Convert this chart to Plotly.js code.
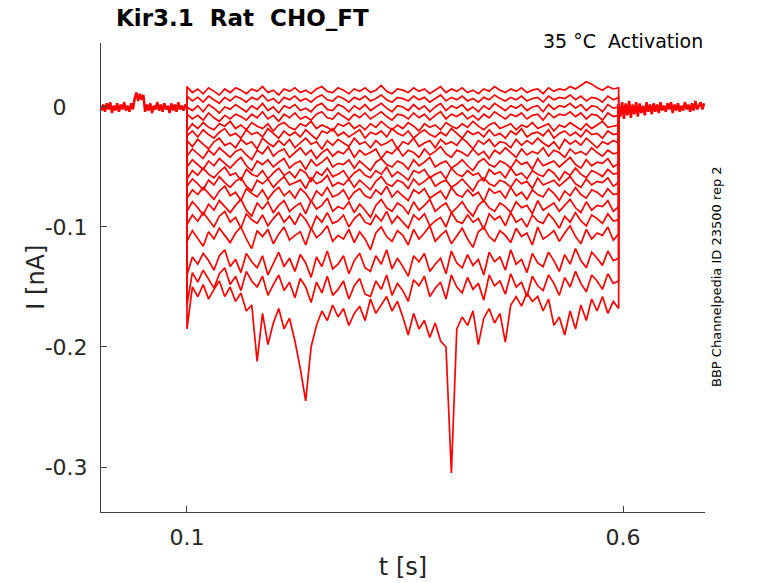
<!DOCTYPE html>
<html>
<head>
<meta charset="utf-8">
<script src="https://cdn.plot.ly/plotly-3.0.1.min.js"></script>
<style>
  html, body { margin: 0; padding: 0; background: #fff; }
  #plot { width: 778px; height: 583px; }
</style>
</head>
<body>
<div id="plot"></div>
<script>
// all currents in pA, converted to nA when plotted
const tBase0 = 0.002;
const dtBase = 0.002;
const tOn = 0.1;
const tOff = 0.595;

// holding current before the step (t = 0.002 .. 0.1)
const basePre = [
  -3, 2, -4, 3, -2, 4, -5, 1, -3, 3, -4, 2, -2, 4, -3, 1, -4, 3, -2,
  7, 12, 5, 11, 6, 10,
  -4, 2, -3, 3, -5, 1, -2, 4, -3, 2, -4, 3, -2, 1, -5, 3, -3, 2, -4, 4, -2, 1, -3, 2, -1,
];

// holding current after the step (t = 0.595 ..)
const basePost = [
  2, -8, 4, -10, 3, -7, 5, -9, 2, -6, 4, -8, 3, -5, 1, -7, 4, -4, 2, -6,
  3, -4, 2, -5, 4, -3, 1, -4, 3, -2, 4, -5, 2, -3, 3, -4, 1, -3, 4, -2,
  2, -4, 3, -3, 5, -2, 1, 4, -2, 3,
];

// step sweeps, 81 samples each between tOn and tOff
const sweep1 = [
  17, 12, 15, 11, 16, 13, 10, 15, 12, 16,
  14, 11, 15, 13, 17, 12, 14, 10, 15, 13,
  16, 12, 14, 11, 15, 17, 13, 12, 16, 14,
  11, 15, 13, 16, 12, 14, 18, 13, 11, 15,
  14, 12, 16, 13, 15, 11, 14, 17, 12, 15,
  13, 16, 12, 14, 11, 15, 13, 17, 14, 12,
  15, 13, 16, 12, 14, 15, 11, 16, 13, 15,
  14, 17, 15, 18, 21, 19, 16, 14, 17, 15,
  16];
const sweep2 = [
  9, 5, 8, 4, 9, 6, 3, 8, 5, 9,
  7, 4, 8, 6, 10, 5, 7, 3, 8, 6,
  9, 5, 7, 4, 8, 10, 6, 5, 9, 7,
  4, 8, 6, 9, 5, 7, 10, 6, 4, 8,
  7, 5, 9, 6, 8, 4, 7, 10, 5, 8,
  6, 9, 5, 7, 4, 8, 6, 10, 7, 5,
  8, 6, 9, 5, 7, 8, 4, 9, 6, 8,
  7, 10, 6, 9, 5, 8, 7, 4, 9, 6,
  8];
const sweep3 = [
  0, -3, 1, -4, 2, -1, -5, 0, -2, 2,
  -1, -4, 1, -2, 3, -3, 0, -5, 1, -1,
  2, -3, -1, -4, 1, 3, -2, -3, 2, 0,
  -4, 1, -2, 2, -3, 0, 3, -1, -4, 1,
  0, -3, 2, -2, 1, -4, 0, 3, -3, 1,
  -1, 2, -3, 0, -4, 1, -2, 3, 0, -3,
  1, -1, 2, -3, 0, 1, -4, 2, -2, 1,
  0, 3, -1, 2, -3, 1, 0, -4, 2, -1,
  0];
const sweep4 = [
  -6, -10, -7, -11, -5, -9, -12, -7, -10, -6,
  -8, -11, -6, -9, -4, -10, -7, -12, -6, -9,
  -5, -10, -8, -11, -6, -4, -9, -10, -5, -8,
  -11, -6, -9, -5, -10, -7, -4, -8, -11, -6,
  -7, -10, -5, -9, -6, -11, -7, -4, -10, -6,
  -8, -5, -10, -7, -11, -6, -9, -4, -7, -10,
  -6, -8, -5, -10, -7, -6, -11, -5, -9, -6,
  -7, -4, -8, -5, -10, -6, -7, -11, -5, -8,
  -7];
const sweep5 = [
  -20, -14, -18, -13, -17, -19, -14, -16, -12, -18,
  -15, -19, -13, -16, -18, -14, -20, -15, -13, -17,
  -19, -14, -16, -12, -18, -15, -17, -20, -14, -16,
  -13, -18, -15, -19, -14, -17, -12, -16, -19, -15,
  -18, -13, -16, -20, -14, -17, -15, -19, -13, -16,
  -18, -14, -17, -12, -16, -19, -15, -13, -18, -16,
  -14, -19, -15, -17, -13, -18, -16, -14, -20, -15,
  -17, -13, -16, -19, -14, -18, -15, -12, -17, -16,
  -15];
const sweep6 = [
  -24, -20, -25, -19, -23, -26, -21, -18, -24, -22,
  -26, -19, -23, -21, -25, -18, -22, -26, -20, -24,
  -21, -25, -19, -23, -27, -20, -22, -18, -24, -21,
  -25, -22, -19, -26, -21, -23, -20, -25, -18, -22,
  -24, -20, -26, -22, -19, -23, -25, -21, -24, -18,
  -22, -26, -20, -23, -21, -25, -19, -24, -22, -26,
  -20, -23, -18, -25, -22, -21, -24, -19, -26, -22,
  -20, -24, -21, -25, -19, -23, -22, -26, -20, -23,
  -22];
const sweep7 = [
  -28, -33, -27, -31, -35, -29, -26, -32, -30, -34,
  -27, -31, -29, -35, -26, -30, -33, -28, -32, -27,
  -34, -30, -26, -31, -29, -35, -28, -32, -27, -30,
  -33, -26, -31, -29, -34, -28, -32, -30, -27, -35,
  -29, -31, -26, -33, -30, -28, -34, -27, -31, -29,
  -32, -26, -30, -35, -28, -31, -27, -33, -29, -30,
  -34, -27, -32, -28, -31, -26, -30, -33, -29, -35,
  -27, -31, -28, -32, -26, -30, -34, -29, -31, -28,
  -30];
const sweep8 = [
  -41, -35, -39, -43, -36, -40, -34, -38, -42, -37,
  -35, -40, -44, -36, -39, -33, -41, -37, -35, -42,
  -38, -34, -40, -36, -43, -38, -35, -41, -37, -39,
  -34, -42, -36, -40, -38, -35, -43, -37, -39, -34,
  -41, -36, -38, -42, -35, -40, -37, -33, -39, -42,
  -36, -38, -41, -35, -40, -37, -43, -36, -39, -34,
  -38, -42, -35, -40, -37, -39, -34, -41, -36, -38,
  -42, -35, -39, -37, -40, -34, -38, -41, -36, -39,
  -38];
const sweep9 = [
  -50, -44, -48, -52, -45, -49, -43, -47, -51, -46,
  -42, -49, -53, -45, -48, -44, -50, -46, -43, -51,
  -47, -45, -52, -44, -49, -46, -42, -50, -47, -48,
  -44, -51, -45, -49, -53, -46, -43, -48, -50, -45,
  -47, -52, -44, -49, -46, -42, -50, -47, -45, -51,
  -48, -44, -49, -53, -46, -43, -48, -50, -45, -47,
  -51, -44, -48, -46, -52, -43, -49, -47, -45, -50,
  -46, -42, -48, -51, -44, -49, -46, -47, -43, -50,
  -47];
const sweep10 = [
  -60, -53, -57, -51, -56, -59, -54, -50, -57, -55,
  -61, -52, -56, -58, -53, -60, -55, -51, -57, -54,
  -59, -52, -55, -62, -54, -57, -51, -58, -56, -53,
  -60, -55, -52, -57, -59, -53, -56, -50, -58, -54,
  -57, -61, -53, -55, -52, -59, -56, -54, -60, -51,
  -56, -58, -53, -57, -55, -62, -52, -56, -54, -59,
  -51, -57, -55, -60, -53, -56, -58, -52, -55, -61,
  -54, -57, -51, -56, -59, -53, -55, -58, -52, -56,
  -55];
const sweep11 = [
  -66, -60, -64, -69, -61, -65, -58, -63, -67, -62,
  -59, -66, -70, -61, -64, -60, -67, -62, -58, -65,
  -63, -61, -68, -59, -64, -62, -57, -66, -63, -65,
  -60, -67, -61, -65, -69, -62, -58, -64, -66, -61,
  -63, -68, -60, -65, -62, -58, -66, -63, -61, -67,
  -64, -60, -65, -70, -62, -59, -64, -66, -61, -63,
  -67, -60, -64, -62, -68, -59, -65, -63, -61, -66,
  -62, -58, -64, -67, -60, -65, -62, -63, -59, -66,
  -63];
const sweep12 = [
  -76, -69, -73, -67, -72, -77, -70, -66, -74, -71,
  -78, -68, -72, -75, -69, -77, -71, -67, -74, -70,
  -76, -68, -72, -79, -70, -74, -67, -75, -73, -69,
  -77, -71, -68, -74, -76, -69, -73, -66, -75, -70,
  -74, -78, -69, -72, -68, -76, -73, -70, -77, -67,
  -73, -75, -69, -74, -71, -79, -68, -72, -70, -76,
  -67, -74, -71, -77, -69, -73, -75, -68, -72, -78,
  -70, -74, -67, -73, -76, -69, -71, -75, -68, -73,
  -72];
const sweep13 = [
  -87, -79, -84, -90, -81, -86, -78, -83, -88, -82,
  -77, -86, -91, -80, -85, -79, -88, -82, -78, -87,
  -83, -80, -89, -78, -85, -82, -76, -87, -83, -85,
  -79, -88, -81, -86, -92, -82, -77, -84, -87, -80,
  -83, -89, -79, -86, -82, -77, -87, -83, -80, -88,
  -84, -79, -86, -91, -82, -78, -84, -87, -80, -83,
  -88, -79, -84, -82, -89, -78, -86, -83, -80, -87,
  -82, -77, -84, -88, -79, -86, -82, -83, -78, -87,
  -83];
const sweep14 = [
  -98, -90, -95, -88, -94, -100, -91, -87, -96, -92,
  -101, -89, -94, -97, -90, -99, -93, -88, -96, -91,
  -98, -89, -94, -102, -91, -96, -88, -97, -95, -90,
  -100, -93, -89, -96, -98, -90, -95, -87, -97, -91,
  -96, -101, -90, -94, -89, -99, -95, -92, -100, -88,
  -95, -97, -90, -96, -93, -102, -89, -94, -91, -99,
  -88, -96, -93, -100, -90, -95, -97, -89, -94, -101,
  -91, -96, -88, -95, -99, -90, -93, -97, -89, -95,
  -94];
const sweep15 = [
  -112, -103, -109, -116, -104, -110, -101, -107, -113, -105,
  -100, -110, -118, -103, -108, -102, -114, -106, -100, -111,
  -107, -104, -115, -101, -109, -105, -99, -112, -107, -110,
  -102, -113, -104, -110, -119, -105, -100, -108, -112, -103,
  -107, -115, -102, -110, -105, -99, -112, -107, -103, -114,
  -108, -101, -110, -117, -104, -100, -108, -112, -103, -107,
  -113, -101, -108, -105, -115, -100, -110, -107, -103, -112,
  -105, -99, -108, -114, -102, -110, -105, -107, -100, -111,
  -106];
const sweep16 = [
  -140, -125, -131, -122, -128, -136, -124, -119, -133, -127,
  -138, -122, -129, -134, -124, -140, -130, -121, -133, -126,
  -137, -123, -130, -142, -125, -133, -120, -135, -131, -124,
  -139, -128, -122, -134, -137, -124, -131, -119, -135, -126,
  -133, -141, -124, -129, -122, -137, -131, -126, -139, -120,
  -130, -134, -123, -132, -127, -140, -121, -129, -125, -136,
  -119, -131, -127, -138, -122, -130, -133, -121, -128, -137,
  -123, -131, -118, -128, -134, -121, -126, -132, -120, -128,
  -126];
const sweep17 = [
  -165, -138, -146, -136, -144, -151, -139, -134, -148, -141,
  -153, -137, -145, -150, -141, -157, -148, -140, -153, -146,
  -159, -143, -150, -163, -146, -155, -141, -157, -152, -145,
  -160, -149, -143, -156, -158, -145, -152, -140, -157, -147,
  -153, -162, -144, -149, -141, -158, -151, -146, -160, -140,
  -150, -155, -142, -152, -147, -161, -140, -149, -145, -156,
  -139, -150, -146, -158, -141, -149, -153, -140, -147, -157,
  -142, -150, -137, -147, -154, -140, -145, -152, -139, -147,
  -145];
const sweep18 = [
  -185, -150, -158, -148, -160, -152, -145, -158, -150, -162,
  -155, -170, -165, -212, -172, -198, -180, -168, -185, -176,
  -195, -218, -245, -200, -182, -170, -178, -165, -175, -168,
  -182, -172, -166, -178, -160, -172, -165, -158, -170, -162,
  -175, -190, -172, -185, -178, -192, -180, -195, -200, -305,
  -185, -175, -182, -170, -198, -176, -168, -180, -172, -196,
  -165, -158, -166, -155, -162, -158, -170, -160, -182, -175,
  -190, -170, -185, -165, -178, -160, -170, -158, -172, -162,
  -168];

const sweeps = [sweep1, sweep2, sweep3, sweep4, sweep5, sweep6, sweep7, sweep8, sweep9,
  sweep10, sweep11, sweep12, sweep13, sweep14, sweep15, sweep16, sweep17, sweep18];

const red = '#ff0000';
const axisColor = '#404040';
const textColor = '#262626';
const font = 'DejaVu Sans, sans-serif';

const toNA = (v) => v / 1000;

const tPre = basePre.map((v, i) => tBase0 + i * dtBase);
const tPost = basePost.map((v, i) => tOff + i * dtBase);

const data = [];

data.push({
  x: tPre,
  y: basePre.map(toNA),
  mode: 'lines',
  line: {color: red, width: 2.5},
});
data.push({
  x: tPost,
  y: basePost.map(toNA),
  mode: 'lines',
  line: {color: red, width: 2.5},
});

sweeps.forEach((s) => {
  const dt = (tOff - tOn) / (s.length - 1);
  const x = [tOn];
  const y = [toNA(basePre[basePre.length - 1])];
  s.forEach((v, i) => {
    x.push(tOn + i * dt);
    y.push(toNA(v));
  });
  x.push(tOff);
  y.push(toNA(basePost[0]));
  data.push({
    x: x,
    y: y,
    mode: 'lines',
    line: {color: red, width: 1.7},
  });
});

const layout = {
  width: 778,
  height: 583,
  margin: {l: 101, r: 73, t: 43, b: 71},
  paper_bgcolor: '#ffffff',
  plot_bgcolor: '#ffffff',
  showlegend: false,
  font: {family: font, color: textColor},
  xaxis: {
    range: [0.0014, 0.694],
    tickvals: [0.1, 0.6],
    ticktext: ['0.1', '0.6'],
    showline: true,
    linecolor: axisColor,
    linewidth: 1,
    ticks: 'inside',
    ticklen: 6,
    tickcolor: axisColor,
    showgrid: false,
    zeroline: false,
    ticklabelstandoff: 6,
    tickfont: {family: font, size: 22, color: textColor},
    title: {text: 't [s]', font: {family: font, size: 24, color: textColor}, standoff: 8},
  },
  yaxis: {
    range: [-0.3375, 0.0533],
    tickvals: [-0.3, -0.2, -0.1, 0],
    ticktext: ['-0.3', '-0.2', '-0.1', '0\u00a0\u00a0\u00a0'],
    showline: true,
    linecolor: axisColor,
    linewidth: 1,
    ticks: 'inside',
    ticklen: 6,
    tickcolor: axisColor,
    showgrid: false,
    zeroline: false,
    ticklabelstandoff: 8,
    tickfont: {family: font, size: 22, color: textColor},
  },
  annotations: [{
    text: '<b>Kir3.1  Rat  CHO_FT</b>',
    xref: 'paper', yref: 'paper',
    x: 0.022, y: 1.053,
    xanchor: 'left', yanchor: 'middle',
    showarrow: false,
    font: {family: font, size: 23, color: '#000000'},
  }, {
    text: '35 °C  Activation',
    xref: 'paper', yref: 'paper',
    x: 1.0, y: 1.004,
    xanchor: 'right', yanchor: 'middle',
    showarrow: false,
    font: {family: font, size: 19, color: '#000000'},
  }, {
    text: 'I [nA]',
    xref: 'paper', yref: 'paper',
    x: -0.109, y: 0.5,
    xanchor: 'center', yanchor: 'middle',
    textangle: -90,
    showarrow: false,
    font: {family: font, size: 24, color: textColor},
  }, {
    text: 'BBP Channelpedia ID 23500 rep 2',
    xref: 'paper', yref: 'paper',
    x: 1.018, y: 0.503,
    xanchor: 'center', yanchor: 'middle',
    textangle: -90,
    showarrow: false,
    font: {family: font, size: 13, color: '#000000'},
  }],
};

Plotly.newPlot('plot', data, layout, {displayModeBar: false, staticPlot: true});
</script>
</body>
</html>
